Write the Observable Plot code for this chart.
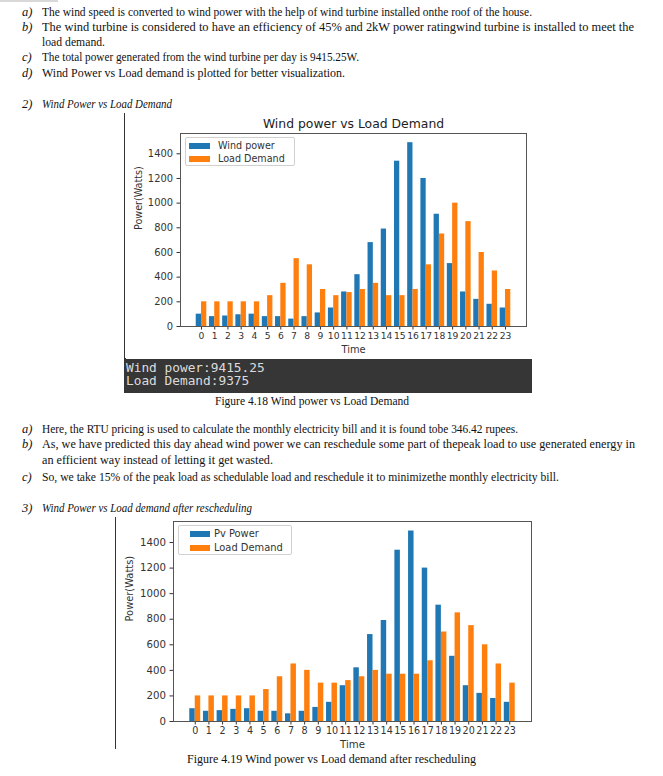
<!DOCTYPE html>
<html><head><meta charset="utf-8">
<script src="https://cdn.jsdelivr.net/npm/d3@7"></script>
<script src="https://cdn.jsdelivr.net/npm/@observablehq/plot@0.6"></script>
<style>
html,body{margin:0;padding:0;background:#fff;}
#page{position:relative;width:663px;height:776px;overflow:hidden;font-family:"Liberation Serif","Times New Roman",serif;color:#111;}
.t{position:absolute;white-space:nowrap;font-size:12.5px;line-height:14px;transform-origin:0 50%;}
.lab{position:absolute;white-space:nowrap;font-style:italic;font-size:12.5px;line-height:14px;}
.vline{position:absolute;width:1.5px;background:#333;}
.console{position:absolute;background:#363636;color:#dcdcdc;font-family:"DejaVu Sans Mono",monospace;font-size:12.8px;line-height:13.4px;padding:2px 0 0 2px;box-sizing:border-box;white-space:pre;}
.legend{position:absolute;border:1px solid #d0d0d0;border-radius:2px;background:rgba(255,255,255,0.85);font-family:"DejaVu Sans",sans-serif;color:#333;box-sizing:border-box;}
.legend .row{position:absolute;white-space:nowrap;}
.legend .sw{position:absolute;}
.chart{position:absolute;}
</style></head>
<body>
<div id="page"></div>
<script>
// ---------- data ----------
const hours = [0,1,2,3,4,5,6,7,8,9,10,11,12,13,14,15,16,17,18,19,20,21,22,23];
const windPower = [100,80,85,95,100,80,80,60,80,110,150,280,420,680,790,1340,1490,1200,910,510,280,220,180,150];
const loadDemand = [200,200,200,200,200,250,350,550,500,300,250,275,300,350,250,250,300,500,750,1000,850,600,450,300];
const loadRescheduled = [200,200,200,200,200,250,350,450,400,300,300,320,350,400,370,370,370,475,700,850,750,600,450,300];
const yTicks = [0,200,400,600,800,1000,1200,1400];
const seriesNames1 = ["Wind power","Load Demand"];
const seriesNames2 = ["Pv Power","Load Demand"];
const colors = ["#1f77b4","#ff7f0e"];
const totals = {wind: "9415.25", load: "9375"};

const page = document.getElementById("page");

// ---------- document text ----------
const lines = [
  {y:12, lab:"a)", text:"The wind speed is converted to wind power with the help of wind turbine installed onthe roof of the house.", end:532},
  {y:27, lab:"b)", text:"The wind turbine is considered to have an efficiency of 45% and 2kW power ratingwind turbine is installed to meet the", end:634, justify:true},
  {y:42, text:"load demand.", end:105},
  {y:57, lab:"c)", text:"The total power generated from the wind turbine per day is 9415.25W.", end:359},
  {y:73, lab:"d)", text:"Wind Power vs Load demand is plotted for better visualization.", end:345},
  {y:104, lab:"2)", text:"Wind Power vs Load Demand", end:172, italic:true},
  {y:401, text:"Figure 4.18 Wind power vs Load Demand", x:215, end:409},
  {y:429, lab:"a)", text:"Here, the RTU pricing is used to calculate the monthly electricity bill and it is found tobe 346.42 rupees.", end:518},
  {y:444, lab:"b)", text:"As, we have predicted this day ahead wind power we can reschedule some part of thepeak load to use generated energy in", end:635, justify:true},
  {y:460, text:"an efficient way instead of letting it get wasted.", end:273},
  {y:477, lab:"c)", text:"So, we take 15% of the peak load as schedulable load and reschedule it to minimizethe monthly electricity bill.", end:559},
  {y:508, lab:"3)", text:"Wind Power vs Load demand after rescheduling", end:252, italic:true},
  {y:759, text:"Figure 4.19 Wind power vs Load demand after rescheduling", x:187, end:476}
];
for (const L of lines) {
  if (L.lab) {
    const l = document.createElement("div");
    l.className = "lab"; l.textContent = L.lab;
    l.style.left = "22px"; l.style.top = (L.y - 7) + "px";
    page.appendChild(l);
  }
  const d = document.createElement("div");
  d.className = "t"; d.textContent = L.text;
  const x = L.x ?? 42;
  d.style.left = x + "px"; d.style.top = (L.y - 7) + "px";
  if (L.italic) d.style.fontStyle = "italic";
  page.appendChild(d);
  const target = L.end - x;
  const w = d.getBoundingClientRect().width;
  if (L.justify && w < target) {
    const spaces = (L.text.match(/ /g) || []).length;
    d.style.wordSpacing = ((target - w) / spaces) + "px";
  } else {
    d.style.transform = `scaleX(${target / w})`;
  }
}
const topline = document.createElement("div");
Object.assign(topline.style, {position:"absolute", left:"0px", top:"0px", width:"58px", height:"2px", background:"#d8d8d8"});
page.appendChild(topline);

// ---------- charts ----------
function makeChart(load, opt) {
  const rows = hours.map((h, i) => ({h, wind: windPower[i], load: load[i]}));
  const lo = d3.min(hours) - 0.4, hi = d3.max(hours) + 0.4, pad = (hi - lo) * 0.05;
  const ymax = d3.max([...windPower, ...load]) * 1.05;
  const marks = [
    Plot.rect(rows, {x1: d => d.h - 0.4, x2: d => d.h, y1: 0, y2: "wind", fill: colors[0]}),
    Plot.rect(rows, {x1: d => d.h, x2: d => d.h + 0.4, y1: 0, y2: "load", fill: colors[1]}),
    Plot.frame({stroke: "#555", strokeWidth: 1}),
    Plot.text(["Time"], {frameAnchor: "bottom", lineAnchor: "middle", dy: opt.timeDy, text: d => d, fontSize: opt.fs, fill: "#333"}),
    Plot.text(["Power(Watts)"], {frameAnchor: "left", lineAnchor: "middle", dx: opt.ylabDx, rotate: -90, text: d => d, fontSize: opt.fs - 0.3, fill: "#333"})
  ];
  if (opt.title) marks.push(Plot.text([opt.title], {frameAnchor: "top", lineAnchor: "middle", dy: -9, text: d => d, fontSize: opt.titleFs, fill: "#222"}));
  const svg = Plot.plot({
    width: opt.width, height: opt.height,
    marginLeft: opt.ml, marginRight: opt.mr, marginTop: opt.mt, marginBottom: opt.mb,
    style: {fontFamily: "DejaVu Sans, sans-serif", fontSize: opt.fs + "px", color: "#333", background: "#fff", overflow: "visible"},
    x: {type: "linear", domain: [lo - pad, hi + pad], ticks: hours, tickFormat: d => String(d), label: null, tickSize: 3.5, tickPadding: 2},
    y: {domain: [0, ymax], ticks: yTicks, tickFormat: d => String(d), label: null, tickSize: 3.5, tickPadding: 4},
    marks
  });
  svg.querySelectorAll('g[aria-label^="x-axis"]').forEach(g => g.setAttribute("font-size", opt.xfs));
  svg.classList.add("chart");
  svg.style.left = opt.left + "px"; svg.style.top = opt.top + "px";
  page.appendChild(svg);
}

function legend(names, o) {
  const lg = document.createElement("div");
  lg.className = "legend";
  Object.assign(lg.style, {left: o.left + "px", top: o.top + "px", width: o.w + "px", height: o.h + "px", fontSize: o.fs + "px"});
  names.forEach((n, i) => {
    const sw = document.createElement("div");
    sw.className = "sw";
    Object.assign(sw.style, {left: o.swx + "px", top: (o.row0 + i * o.dy - 3) + "px", width: o.sww + "px", height: "6px", background: colors[i]});
    lg.appendChild(sw);
    const r = document.createElement("div");
    r.className = "row"; r.textContent = n;
    Object.assign(r.style, {left: o.tx + "px", top: (o.row0 + i * o.dy - o.fs * 0.62) + "px", lineHeight: (o.fs * 1.2) + "px"});
    lg.appendChild(r);
  });
  page.appendChild(lg);
}

// chart 1
const v1 = document.createElement("div"); v1.className = "vline";
Object.assign(v1.style, {left: "124px", top: "113px", height: "247px"}); page.appendChild(v1);
makeChart(loadDemand, {left:125, top:112, width:407, height:246, ml:55, mr:6, mt:21, mb:32, fs:9.9, xfs:9.2, timeDy:23, ylabDx:-42, title:"Wind power vs Load Demand", titleFs:12.4});
legend(seriesNames1, {left:185, top:137, w:110, h:29, fs:9.6, swx:3, sww:21, row0:7.5, dy:13.5, tx:32});
const con = document.createElement("div"); con.className = "console";
Object.assign(con.style, {left:"124px", top:"359px", width:"408px", height:"34px"});
con.textContent = "Wind power:" + totals.wind + "\nLoad Demand:" + totals.load;
page.appendChild(con);

// chart 2
const v2 = document.createElement("div"); v2.className = "vline";
Object.assign(v2.style, {left: "115px", top: "517px", height: "232px"}); page.appendChild(v2);
makeChart(loadRescheduled, {left:116, top:516, width:416, height:235, ml:57, mr:1, mt:5, mb:30, fs:10.2, xfs:9.6, timeDy:23, ylabDx:-43.5});
legend(seriesNames2, {left:178, top:525, w:114, h:30, fs:9.9, swx:11, sww:20, row0:8, dy:14, tx:35});
</script>
</body></html>
